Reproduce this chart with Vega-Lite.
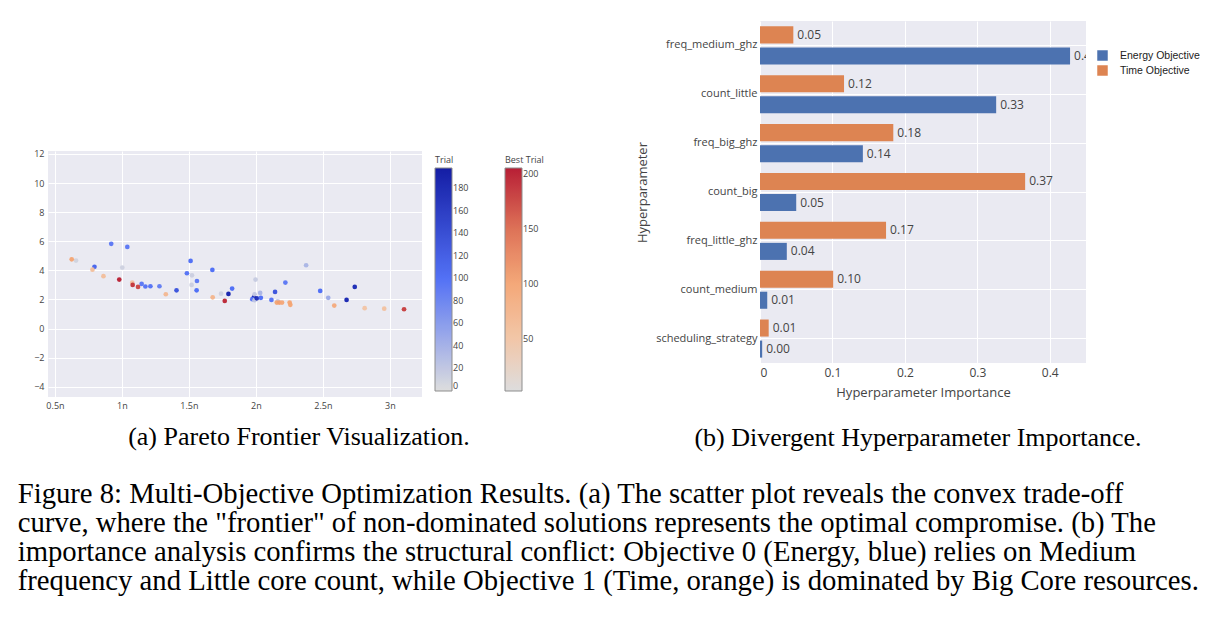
{
  "$schema": "https://vega.github.io/schema/vega-lite/v6.json",
  "background": "white",
  "padding": {"left": 17, "top": 21, "right": 5, "bottom": 5},
  "config": {"view": {"stroke": null}, "font": "Open Sans"},
  "title": {
    "text": [
      "Figure 8: Multi-Objective Optimization Results. (a) The scatter plot reveals the convex trade-off",
      "curve, where the \"frontier\" of non-dominated solutions represents the optimal compromise. (b) The",
      "importance analysis confirms the structural conflict: Objective 0 (Energy, blue) relies on Medium",
      "frequency and Little core count, while Objective 1 (Time, orange) is dominated by Big Core resources."
    ],
    "orient": "bottom",
    "anchor": "start",
    "font": "Liberation Serif",
    "fontSize": 28.7,
    "fontWeight": "normal",
    "lineHeight": 29,
    "color": "black",
    "offset": 29,
    "dx": -16
  },
  "spacing": 165,
  "hconcat": [
    {
      "spacing": 0,
      "vconcat": [
        {
          "width": 1,
          "height": 128,
          "data": {"values": []},
          "mark": {"type": "text"},
          "encoding": {}
        },
        {
          "width": 374,
          "height": 246,
          "title": {
            "text": "(a) Pareto Frontier Visualization.",
            "orient": "bottom",
            "font": "Liberation Serif",
            "fontSize": 26,
            "fontWeight": "normal",
            "color": "black",
            "offset": 14,
            "dx": 64
          },
          "view": {"fill": "#eaeaf2"},
          "data": {
            "values": [
              {"x": 0.657, "y": 4.67, "g": "trial", "trial": 8},
              {"x": 0.795, "y": 4.24, "g": "trial", "trial": 110},
              {"x": 0.92, "y": 5.82, "g": "trial", "trial": 90},
              {"x": 1.0025, "y": 4.19, "g": "trial", "trial": 10},
              {"x": 1.04, "y": 5.61, "g": "trial", "trial": 90},
              {"x": 1.147, "y": 3.07, "g": "trial", "trial": 90},
              {"x": 1.175, "y": 2.89, "g": "trial", "trial": 95},
              {"x": 1.2125, "y": 2.91, "g": "trial", "trial": 95},
              {"x": 1.28, "y": 2.91, "g": "trial", "trial": 85},
              {"x": 1.4075, "y": 2.63, "g": "trial", "trial": 130},
              {"x": 1.485, "y": 3.8, "g": "trial", "trial": 95},
              {"x": 1.5125, "y": 4.65, "g": "trial", "trial": 100},
              {"x": 1.5225, "y": 3.66, "g": "trial", "trial": 12},
              {"x": 1.52, "y": 3.0, "g": "trial", "trial": 12},
              {"x": 1.56, "y": 3.27, "g": "trial", "trial": 90},
              {"x": 1.5575, "y": 2.63, "g": "trial", "trial": 100},
              {"x": 1.675, "y": 4.03, "g": "trial", "trial": 100},
              {"x": 1.74, "y": 2.4, "g": "trial", "trial": 10},
              {"x": 1.795, "y": 2.38, "g": "trial", "trial": 185},
              {"x": 1.8225, "y": 2.75, "g": "trial", "trial": 100},
              {"x": 1.9975, "y": 3.37, "g": "trial", "trial": 15},
              {"x": 1.985, "y": 2.15, "g": "trial", "trial": 185},
              {"x": 1.973, "y": 2.02, "g": "trial", "trial": 95},
              {"x": 1.99, "y": 1.95, "g": "trial", "trial": 20},
              {"x": 1.99, "y": 2.36, "g": "trial", "trial": 18},
              {"x": 2.007, "y": 2.08, "g": "trial", "trial": 170},
              {"x": 2.032, "y": 2.45, "g": "trial", "trial": 35},
              {"x": 2.037, "y": 2.11, "g": "trial", "trial": 100},
              {"x": 2.116, "y": 1.97, "g": "trial", "trial": 95},
              {"x": 2.143, "y": 2.52, "g": "trial", "trial": 130},
              {"x": 2.163, "y": 1.88, "g": "trial", "trial": 20},
              {"x": 2.22, "y": 3.16, "g": "trial", "trial": 90},
              {"x": 2.375, "y": 4.35, "g": "trial", "trial": 35},
              {"x": 2.48, "y": 2.59, "g": "trial", "trial": 100},
              {"x": 2.54, "y": 2.11, "g": "trial", "trial": 45},
              {"x": 2.677, "y": 1.97, "g": "trial", "trial": 180},
              {"x": 2.738, "y": 2.86, "g": "trial", "trial": 175},
              {"x": 0.625, "y": 4.76, "g": "best", "best_trial": 100},
              {"x": 0.78, "y": 4.05, "g": "best", "best_trial": 60},
              {"x": 0.862, "y": 3.6, "g": "best", "best_trial": 60},
              {"x": 0.98, "y": 3.37, "g": "best", "best_trial": 200},
              {"x": 1.077, "y": 3.16, "g": "best", "best_trial": 55},
              {"x": 1.08, "y": 3.0, "g": "best", "best_trial": 185},
              {"x": 1.12, "y": 2.86, "g": "best", "best_trial": 175},
              {"x": 1.3275, "y": 2.36, "g": "best", "best_trial": 70},
              {"x": 1.6775, "y": 2.15, "g": "best", "best_trial": 75},
              {"x": 1.7675, "y": 1.9, "g": "best", "best_trial": 195},
              {"x": 2.156, "y": 1.79, "g": "best", "best_trial": 100},
              {"x": 2.175, "y": 1.79, "g": "best", "best_trial": 105},
              {"x": 2.195, "y": 1.79, "g": "best", "best_trial": 95},
              {"x": 2.252, "y": 1.79, "g": "best", "best_trial": 100},
              {"x": 2.257, "y": 1.63, "g": "best", "best_trial": 100},
              {"x": 2.585, "y": 1.58, "g": "best", "best_trial": 90},
              {"x": 2.812, "y": 1.4, "g": "best", "best_trial": 50},
              {"x": 2.958, "y": 1.37, "g": "best", "best_trial": 55},
              {"x": 3.106, "y": 1.33, "g": "best", "best_trial": 180}
            ]
          },
          "encoding": {
            "x": {
              "field": "x",
              "type": "quantitative",
              "scale": {"domain": [0.448, 3.24], "nice": false, "zero": false},
              "axis": {
                "values": [0.5, 1, 1.5, 2, 2.5, 3],
                "labelExpr": "datum.value + 'n'",
                "title": null,
                "labelFontSize": 9,
                "labelColor": "#444",
                "labelPadding": 4,
                "ticks": false,
                "domain": false,
                "gridColor": "white",
                "gridWidth": 1
              }
            },
            "y": {
              "field": "y",
              "type": "quantitative",
              "scale": {"domain": [-4.7, 12.2], "nice": false, "zero": false},
              "axis": {
                "values": [-4, -2, 0, 2, 4, 6, 8, 10, 12],
                "title": null,
                "labelFontSize": 9,
                "labelColor": "#444",
                "labelPadding": 4,
                "ticks": false,
                "domain": false,
                "gridColor": "white",
                "gridWidth": 1
              }
            }
          },
          "layer": [
            {
              "transform": [{"filter": "datum.g == 'trial'"}],
              "mark": {"type": "circle", "size": 22, "opacity": 0.95},
              "encoding": {
                "color": {
                  "field": "trial",
                  "type": "quantitative",
                  "scale": {"domain": [0, 100, 198], "range": ["#dcdcdc", "#4a6af5", "#0812a0"], "interpolate": "rgb"},
                  "legend": {
                    "orient": "none",
                    "legendX": 387,
                    "legendY": 135,
                    "direction": "vertical",
                    "gradientLength": 223,
                    "gradientThickness": 17,
                    "values": [0, 20, 40, 60, 80, 100, 120, 140, 160, 180],
                    "title": "Trial",
                    "titleFontSize": 9,
                    "titleFontWeight": "normal",
                    "titleColor": "#444",
                    "titlePadding": 3,
                    "labelFontSize": 9,
                    "labelColor": "#444",
                    "labelOffset": 1,
                    "gradientStrokeColor": "#888",
                    "gradientStrokeWidth": 1
                  }
                }
              }
            },
            {
              "transform": [{"filter": "datum.g == 'best'"}],
              "mark": {"type": "circle", "size": 22, "opacity": 0.95},
              "encoding": {
                "fill": {
                  "field": "best_trial",
                  "type": "quantitative",
                  "scale": {"domain": [3, 50, 100, 150, 205], "range": ["#dcdcdc", "#f2c4a4", "#f4a472", "#dc6b4f", "#b4132b"], "interpolate": "rgb"},
                  "legend": {
                    "orient": "none",
                    "legendX": 457,
                    "legendY": 135,
                    "direction": "vertical",
                    "gradientLength": 223,
                    "gradientThickness": 17,
                    "values": [50, 100, 150, 200],
                    "title": "Best Trial",
                    "titleFontSize": 9,
                    "titleFontWeight": "normal",
                    "titleColor": "#444",
                    "titlePadding": 3,
                    "labelFontSize": 9,
                    "labelColor": "#444",
                    "labelOffset": 1,
                    "gradientStrokeColor": "#888",
                    "gradientStrokeWidth": 1
                  }
                }
              }
            }
          ]
        }
      ]
    },
    {
      "width": 326,
      "height": 342,
      "title": {
        "text": "(b) Divergent Hyperparameter Importance.",
        "orient": "bottom",
        "font": "Liberation Serif",
        "fontSize": 26,
        "fontWeight": "normal",
        "color": "black",
        "offset": 26,
        "dx": -5
      },
      "view": {"fill": "#eaeaf2"},
      "data": {
        "values": [
          {"param": "freq_medium_ghz", "objective": "Energy Objective", "importance": 0.428},
          {"param": "count_little", "objective": "Energy Objective", "importance": 0.326},
          {"param": "freq_big_ghz", "objective": "Energy Objective", "importance": 0.142},
          {"param": "count_big", "objective": "Energy Objective", "importance": 0.05},
          {"param": "freq_little_ghz", "objective": "Energy Objective", "importance": 0.037},
          {"param": "count_medium", "objective": "Energy Objective", "importance": 0.01},
          {"param": "scheduling_strategy", "objective": "Energy Objective", "importance": 0.003},
          {"param": "freq_medium_ghz", "objective": "Time Objective", "importance": 0.046},
          {"param": "count_little", "objective": "Time Objective", "importance": 0.116},
          {"param": "freq_big_ghz", "objective": "Time Objective", "importance": 0.184},
          {"param": "count_big", "objective": "Time Objective", "importance": 0.366},
          {"param": "freq_little_ghz", "objective": "Time Objective", "importance": 0.174},
          {"param": "count_medium", "objective": "Time Objective", "importance": 0.101},
          {"param": "scheduling_strategy", "objective": "Time Objective", "importance": 0.012}
        ]
      },
      "encoding": {
        "y": {
          "field": "param",
          "type": "nominal",
          "sort": ["freq_medium_ghz", "count_little", "freq_big_ghz", "count_big", "freq_little_ghz", "count_medium", "scheduling_strategy"],
          "scale": {"paddingInner": 0.22, "paddingOuter": 0.11},
          "axis": {
            "title": "Hyperparameter",
            "bandPosition": 0.5,
            "grid": true,
            "gridColor": "white",
            "ticks": false,
            "domain": false,
            "labelFontSize": 11,
            "labelColor": "#444",
            "labelPadding": 3,
            "titleFontSize": 13,
            "titleFontWeight": "normal",
            "titleColor": "#444",
            "titlePadding": 6
          }
        },
        "yOffset": {
          "field": "objective",
          "type": "nominal",
          "sort": ["Time Objective", "Energy Objective"],
          "scale": {"paddingInner": 0.19}
        },
        "x": {
          "field": "importance",
          "type": "quantitative",
          "scale": {"domain": [0, 0.45], "nice": false},
          "axis": {
            "values": [0, 0.1, 0.2, 0.3, 0.4],
            "format": "~g",
            "title": "Hyperparameter Importance",
            "titleFontSize": 13,
            "titleFontWeight": "normal",
            "titleColor": "#444",
            "titlePadding": 8,
            "labelFontSize": 12,
            "labelColor": "#444",
            "labelPadding": 4,
            "ticks": false,
            "domain": false,
            "gridColor": "white"
          }
        }
      },
      "layer": [
        {
          "mark": {"type": "bar"},
          "encoding": {
            "color": {
              "field": "objective",
              "type": "nominal",
              "scale": {"domain": ["Energy Objective", "Time Objective"], "range": ["#4c72b0", "#dd8452"]},
              "legend": {
                "orient": "none",
                "legendX": 332,
                "legendY": 24,
                "title": null,
                "symbolType": "square",
                "symbolSize": 110,
                "symbolStrokeWidth": 0,
                "labelFont": "Liberation Sans",
                "labelFontSize": 10.5,
                "labelColor": "#222",
                "labelOffset": 12,
                "fillColor": "white",
                "padding": 5,
                "rowPadding": 4
              }
            }
          }
        },
        {
          "mark": {"type": "text", "align": "left", "baseline": "middle", "dx": 4, "clip": true, "fontSize": 12, "color": "#444"},
          "encoding": {
            "text": {"field": "importance", "type": "quantitative", "format": ".2f"}
          }
        }
      ]
    }
  ]
}
